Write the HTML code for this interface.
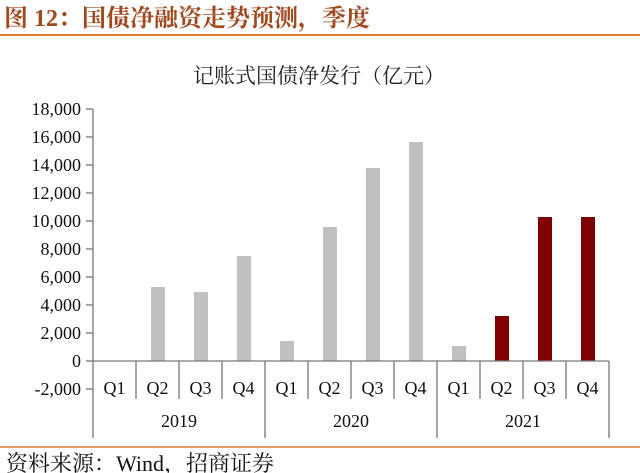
<!DOCTYPE html>
<html><head><meta charset="utf-8"><style>
html,body{margin:0;padding:0;background:#fff;}
svg{display:block;}
</style></head><body>
<svg width="640" height="473" viewBox="0 0 640 473" xmlns="http://www.w3.org/2000/svg">
<text x="4" y="26" font-family="'Liberation Serif','Noto Serif CJK SC',serif" font-size="24" font-weight="bold" fill="#a0481e">图 12：国债净融资走势预测，季度</text>
<line x1="0" y1="35" x2="640" y2="35" stroke="#e07b39" stroke-width="2"/>
<text x="319" y="83" text-anchor="middle" font-family="'Liberation Serif','Noto Serif CJK SC',serif" font-size="21" fill="#222">记账式国债净发行（亿元）</text>
<g font-family="'Liberation Serif',serif" font-size="18" fill="#111" text-anchor="end">
<text x="81" y="115">18,000</text>
<text x="81" y="143">16,000</text>
<text x="81" y="171">14,000</text>
<text x="81" y="199">12,000</text>
<text x="81" y="227">10,000</text>
<text x="81" y="255">8,000</text>
<text x="81" y="283">6,000</text>
<text x="81" y="311">4,000</text>
<text x="81" y="339">2,000</text>
<text x="81" y="367">0</text>
<text x="81" y="395">-2,000</text>
</g>
<g stroke="#777" stroke-width="1.3">
<line x1="93" y1="109" x2="93" y2="438"/>
<line x1="86" y1="109" x2="93" y2="109"/><line x1="86" y1="137" x2="93" y2="137"/>
<line x1="86" y1="165" x2="93" y2="165"/><line x1="86" y1="193" x2="93" y2="193"/>
<line x1="86" y1="221" x2="93" y2="221"/><line x1="86" y1="249" x2="93" y2="249"/>
<line x1="86" y1="277" x2="93" y2="277"/><line x1="86" y1="305" x2="93" y2="305"/>
<line x1="86" y1="333" x2="93" y2="333"/><line x1="86" y1="361" x2="93" y2="361"/>
<line x1="86" y1="389" x2="93" y2="389"/>
</g>
<g fill="#c0c0c0">
<rect x="151" y="287" width="14" height="74"/>
<rect x="194" y="292" width="14" height="69"/>
<rect x="237" y="256" width="14" height="105"/>
<rect x="280" y="341" width="14" height="20"/>
<rect x="323" y="227" width="14" height="134"/>
<rect x="366" y="168" width="14" height="193"/>
<rect x="409" y="142" width="14" height="219"/>
<rect x="452" y="346" width="14" height="15"/>
</g>
<g fill="#7f0000">
<rect x="495" y="316" width="14" height="45"/>
<rect x="538" y="217" width="14" height="144"/>
<rect x="581" y="217" width="14" height="144"/>
</g>
<g stroke="#777" stroke-width="1.3">
<line x1="93" y1="361" x2="609" y2="361"/>
<line x1="136" y1="361" x2="136" y2="399"/><line x1="179" y1="361" x2="179" y2="399"/>
<line x1="222" y1="361" x2="222" y2="399"/><line x1="308" y1="361" x2="308" y2="399"/>
<line x1="351" y1="361" x2="351" y2="399"/><line x1="394" y1="361" x2="394" y2="399"/>
<line x1="480" y1="361" x2="480" y2="399"/><line x1="523" y1="361" x2="523" y2="399"/>
<line x1="566" y1="361" x2="566" y2="399"/>
<line x1="265" y1="361" x2="265" y2="438"/><line x1="437" y1="361" x2="437" y2="438"/>
<line x1="609" y1="361" x2="609" y2="438"/>
</g>
<g font-family="'Liberation Serif',serif" font-size="18" fill="#111" text-anchor="middle">
<text x="114.5" y="394">Q1</text><text x="157.5" y="394">Q2</text><text x="200.5" y="394">Q3</text><text x="243.5" y="394">Q4</text>
<text x="286.5" y="394">Q1</text><text x="329.5" y="394">Q2</text><text x="372.5" y="394">Q3</text><text x="415.5" y="394">Q4</text>
<text x="458.5" y="394">Q1</text><text x="501.5" y="394">Q2</text><text x="544.5" y="394">Q3</text><text x="587.5" y="394">Q4</text>
<text x="179" y="427">2019</text><text x="351" y="427">2020</text><text x="523" y="427">2021</text>
</g>
<line x1="0" y1="447" x2="640" y2="447" stroke="#e07b39" stroke-width="1.5"/>
<text x="6" y="471" font-family="'Liberation Serif','Noto Serif CJK SC',serif" font-size="22" fill="#111">资料来源：Wind，招商证券</text>
</svg>
</body></html>
